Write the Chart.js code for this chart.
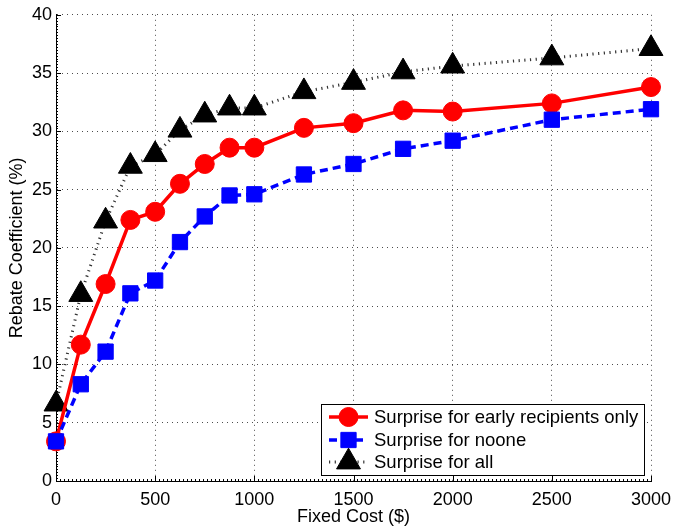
<!DOCTYPE html>
<html>
<head>
<meta charset="utf-8">
<script src="https://cdn.jsdelivr.net/npm/chart.js@4/dist/chart.umd.min.js"></script>
<style>
  html, body { margin: 0; padding: 0; background: #fff; }
  #wrap { width: 675px; height: 527px; }
</style>
</head>
<body>
<div id="wrap"><canvas id="rebateChart" width="675" height="527"></canvas></div>
<script>
// Fixed cost values on the x axis ($)
const fixedCost = [0, 125, 250, 375, 500, 625, 750, 875, 1000, 1250, 1500, 1750, 2000, 2500, 3000];

// Rebate coefficient (%) per scenario
const earlyOnly = [3.4, 11.7, 16.9, 22.4, 23.1, 25.5, 27.2, 28.6, 28.6, 30.3, 30.7, 31.8, 31.7, 32.4, 33.8];
const noone = [3.4, 8.3, 11.1, 16.1, 17.2, 20.5, 22.7, 24.5, 24.6, 26.3, 27.2, 28.5, 29.2, 31.0, 31.9];
const forAll = [6.6, 16.0, 22.3, 27.0, 28.0, 30.1, 31.4, 32.0, 32.0, 33.4, 34.2, 35.1, 35.6, 36.3, 37.1];

const seriesNames = ['Surprise for early recipients only', 'Surprise for noone', 'Surprise for all'];

const xTicks = [0, 500, 1000, 1500, 2000, 2500, 3000];
const yTicks = [0, 5, 10, 15, 20, 25, 30, 35, 40];

const FONT = '"Liberation Sans", Arial, Helvetica, sans-serif';

function toPoints(ys) {
  return fixedCost.map((x, i) => ({ x: x, y: ys[i] }));
}

// inward major/minor ticks like the matlab axes
const axisTicks = {
  id: 'axisTicks',
  beforeDatasetsDraw(chart) {
    const { ctx, chartArea, scales } = chart;
    ctx.save();
    ctx.strokeStyle = '#000';
    ctx.lineWidth = 1;
    ctx.beginPath();
    for (let v = 0; v <= 3000; v += 20) {
      const px = Math.round(scales.x.getPixelForValue(v)) + 0.5;
      const len = v % 500 === 0 ? 5 : 2;
      ctx.moveTo(px, chartArea.bottom);
      ctx.lineTo(px, chartArea.bottom - len);
    }
    for (let k = 0; k <= 160; k++) {
      const v = k * 0.25;
      const py = Math.round(scales.y.getPixelForValue(v)) + 0.5;
      const len = k % 20 === 0 ? 5 : 2;
      ctx.moveTo(chartArea.left, py);
      ctx.lineTo(chartArea.left + len, py);
    }
    ctx.stroke();
    ctx.restore();
  }
};

// legend box in the lower right corner
const boxLegend = {
  id: 'boxLegend',
  afterDatasetsDraw(chart) {
    const { ctx } = chart;
    const left = 321, top = 404, right = 644, bottom = 475;
    ctx.save();
    ctx.fillStyle = '#fff';
    ctx.fillRect(left, top, right - left, bottom - top);
    ctx.strokeStyle = '#000';
    ctx.lineWidth = 1;
    ctx.setLineDash([]);
    ctx.strokeRect(left + 0.5, top + 0.5, right - left, bottom - top);

    const rows = [417, 440, 462];
    chart.data.datasets.forEach((ds, i) => {
      const y = rows[i];
      ctx.save();
      ctx.strokeStyle = ds.borderColor;
      ctx.lineWidth = ds.borderWidth;
      ctx.setLineDash(ds.borderDash || []);
      ctx.beginPath();
      ctx.moveTo(329, y);
      ctx.lineTo(368, y);
      ctx.stroke();
      ctx.restore();

      ctx.save();
      ctx.fillStyle = ds.pointBackgroundColor;
      ctx.strokeStyle = ds.pointBorderColor;
      ctx.lineWidth = ds.pointBorderWidth;
      Chart.helpers.drawPoint(ctx, {
        pointStyle: ds.pointStyle,
        radius: ds.pointRadius,
        rotation: 0,
        borderWidth: ds.pointBorderWidth
      }, 348.5, y);
      ctx.restore();

      ctx.fillStyle = '#000';
      ctx.font = '18.5px ' + FONT;
      ctx.textBaseline = 'middle';
      ctx.textAlign = 'left';
      ctx.fillText(ds.label, 374, y + 1);
    });
    ctx.restore();
  }
};

new Chart(document.getElementById('rebateChart'), {
  type: 'scatter',
  data: {
    datasets: [
      {
        label: seriesNames[0],
        data: toPoints(earlyOnly),
        showLine: true,
        borderColor: '#ff0000',
        borderWidth: 3.5,
        pointStyle: 'circle',
        pointRadius: 9.5,
        pointBackgroundColor: '#ff0000',
        pointBorderColor: '#ff0000',
        pointBorderWidth: 1,
        clip: false,
        order: 2
      },
      {
        label: seriesNames[1],
        data: toPoints(noone),
        showLine: true,
        borderColor: '#0000ff',
        borderWidth: 3.5,
        borderDash: [8, 5],
        pointStyle: 'rect',
        pointRadius: 10.8,
        pointBackgroundColor: '#0000ff',
        pointBorderColor: '#0000ff',
        pointBorderWidth: 1,
        clip: false,
        order: 1
      },
      {
        label: seriesNames[2],
        data: toPoints(forAll),
        showLine: true,
        borderColor: '#333333',
        borderWidth: 3,
        borderDash: [1.2, 4.5],
        pointStyle: 'triangle',
        pointRadius: 13.8,
        pointBackgroundColor: '#000000',
        pointBorderColor: '#000000',
        pointBorderWidth: 1,
        clip: false,
        order: 3
      }
    ]
  },
  options: {
    responsive: false,
    animation: false,
    devicePixelRatio: 1,
    layout: { padding: { top: 12, right: 24, left: 0, bottom: 0 } },
    plugins: {
      legend: { display: false },
      tooltip: { enabled: false }
    },
    elements: { line: { tension: 0 } },
    scales: {
      x: {
        type: 'linear',
        min: 0,
        max: 3000,
        afterFit(scale) {
          scale.height = 46;
          scale.paddingLeft = 0;
          scale.paddingRight = 0;
        },
        afterBuildTicks(scale) { scale.ticks = xTicks.map(v => ({ value: v })); },
        grid: {
          color: 'rgba(0,0,0,0.7)',
          lineWidth: 1,
          drawTicks: false
        },
        border: { display: true, color: '#000', width: 1, dash: [1, 4] },
        ticks: {
          padding: 8,
          color: '#000',
          font: { family: FONT, size: 18 },
          maxRotation: 0,
          callback: v => String(v)
        },
        title: {
          display: true,
          text: 'Fixed Cost ($)',
          color: '#000',
          font: { family: FONT, size: 18, lineHeight: 1.1 },
          padding: { top: 0, bottom: 0 }
        }
      },
      y: {
        type: 'linear',
        min: 0,
        max: 40,
        afterFit(scale) {
          scale.width = 56;
          scale.paddingTop = 0;
          scale.paddingBottom = 0;
        },
        afterBuildTicks(scale) { scale.ticks = yTicks.map(v => ({ value: v })); },
        grid: {
          color: 'rgba(0,0,0,0.7)',
          lineWidth: 1,
          drawTicks: false
        },
        border: { display: true, color: '#000', width: 1, dash: [1, 4] },
        ticks: {
          padding: 4,
          color: '#000',
          font: { family: FONT, size: 18 },
          callback: v => String(v)
        },
        title: {
          display: true,
          text: 'Rebate Coefficient (%)',
          color: '#000',
          font: { family: FONT, size: 18, lineHeight: 1.1 },
          padding: { top: 7, bottom: 0 }
        }
      }
    }
  },
  plugins: [axisTicks, boxLegend]
});
</script>
</body>
</html>
